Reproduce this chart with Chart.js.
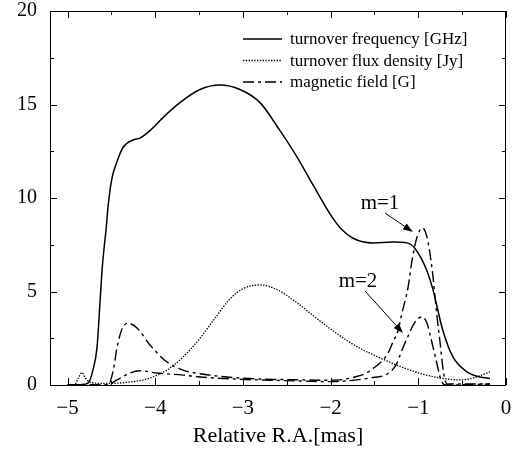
<!DOCTYPE html>
<html><head><meta charset="utf-8">
<script src="https://cdn.jsdelivr.net/npm/chart.js@4/dist/chart.umd.min.js"></script>
<style>html,body{margin:0;padding:0;background:#fff}</style>
</head><body>
<canvas id="c" width="515" height="452"></canvas>
<script>
// ---- data ----
const freqX = [-5.0,-4.85,-4.767,-4.71,-4.664,-4.63,-4.607,-4.584,-4.561,-4.539,-4.496,-4.439,-4.368,-4.254,-4.174,-4.06,-3.912,-3.718,-3.49,-3.262,-3.034,-2.805,-2.577,-2.384,-2.201,-2.0,-1.87,-1.745,-1.517,-1.289,-1.129,-1.038,-0.901,-0.833,-0.719,-0.605,-0.445,-0.297,-0.183];
const freqY = [0.0,0.02,0.1,0.8,2.0,4.4,6.1,7.3,8.3,9.5,11.0,11.9,12.7,13.1,13.2,13.6,14.3,15.1,15.8,16.04,15.8,15.1,13.6,12.2,10.7,9.1,8.3,7.85,7.6,7.65,7.6,7.3,6.1,5.1,2.9,1.5,0.7,0.43,0.35];

const fluxX = [-5.0,-4.92,-4.88,-4.835,-4.8,-4.76,-4.68,-4.55,-4.254,-4.06,-3.866,-3.683,-3.49,-3.33,-3.148,-3.0,-2.805,-2.612,-2.384,-2.156,-1.928,-1.7,-1.437,-1.209,-0.981,-0.753,-0.525,-0.377,-0.183];
const fluxY = [0.0,0.0,0.35,0.66,0.4,0.2,0.1,0.08,0.18,0.37,0.8,1.5,2.5,3.5,4.6,5.15,5.35,5.1,4.4,3.55,2.75,2.05,1.45,1.0,0.62,0.38,0.27,0.37,0.7];

const bM1X = [-5.0,-4.6,-4.535,-4.478,-4.436,-4.379,-4.311,-4.208,-4.06,-3.866,-3.683,-3.49,-3.113,-2.805,-2.4,-2.0,-1.85,-1.72,-1.6,-1.494,-1.403,-1.346,-1.289,-1.232,-1.186,-1.118,-1.07,-1.015,-0.955,-0.901,-0.84,-0.79,-0.75,-0.71,-0.67,-0.183];
const bM1Y = [0.0,0.0,0.02,0.8,2.0,3.0,3.3,3.05,2.14,1.23,0.8,0.6,0.4,0.32,0.28,0.25,0.3,0.43,0.62,0.96,1.34,1.7,2.3,2.9,3.85,5.2,6.7,7.9,8.4,7.9,6.1,3.8,2.2,0.6,0.05,0.05];

const bM2X = [-5.0,-4.55,-4.436,-4.29,-4.174,-3.98,-3.683,-3.49,-3.113,-2.805,-2.4,-2.0,-1.75,-1.55,-1.35,-1.25,-1.2,-1.118,-1.04,-0.96,-0.9,-0.867,-0.8,-0.75,-0.72,-0.68,-0.183];
const bM2Y = [0.0,0.0,0.27,0.64,0.76,0.64,0.53,0.43,0.32,0.27,0.22,0.18,0.25,0.38,0.6,1.1,1.7,2.6,3.35,3.64,3.3,2.7,1.4,0.4,0.08,0.0,0.05];

const seriesLabels = ['turnover frequency [GHz]','turnover flux density [Jy]','magnetic field [G]'];
const xMajorTicks = [-5,-4,-3,-2,-1,0];
const yMajorTicks = [0,5,10,15,20];
const annotations = [
  {text:'m=1', tx:-1.437, ty:9.68, ax1:-1.38, ay1:9.2, ax2:-1.061, ay2:8.18},
  {text:'m=2', tx:-1.688, ty:5.56, ax1:-1.608, ay1:5.03, ax2:-1.175, ay2:2.78}
];

const pts = (xs, ys) => xs.map((x,i)=>({x, y: ys[i]}));
const FONT = '"Liberation Serif","Times New Roman",serif';
const DOT = [1.4,1.4];
const DASHDOT = [11,4,3,4];

const frame = {
  id:'frame',
  afterDraw(chart){
    const {ctx, chartArea:a, scales:{x,y}} = chart;
    ctx.save();
    ctx.strokeStyle='#000'; ctx.lineWidth=1; ctx.setLineDash([]);
    ctx.strokeRect(a.left+0.5, a.top+0.5, a.right-a.left-1, a.bottom-a.top);
    ctx.beginPath();
    x.ticks.forEach(t=>{
      if (Math.abs(t.value*2-Math.round(t.value*2))>1e-6) return;
      const px = Math.round(x.getPixelForValue(t.value))+0.5;
      const len = xMajorTicks.some(v=>Math.abs(v-t.value)<1e-6) ? 7 : 4;
      ctx.moveTo(px,a.bottom); ctx.lineTo(px,a.bottom-len);
      ctx.moveTo(px,a.top); ctx.lineTo(px,a.top+len);
    });
    y.ticks.forEach(t=>{
      const py = Math.round(y.getPixelForValue(t.value))+0.5;
      const len = yMajorTicks.some(v=>Math.abs(v-t.value)<1e-6) ? 7 : 4;
      ctx.moveTo(a.left,py); ctx.lineTo(a.left+len,py);
      ctx.moveTo(a.right,py); ctx.lineTo(a.right-len,py);
    });
    ctx.stroke();

    // legend
    ctx.font = '17px '+FONT; ctx.fillStyle='#000'; ctx.textBaseline='middle'; ctx.textAlign='left';
    const dashes = [[],DOT,DASHDOT];
    const lx1 = a.right-263, lx2 = a.right-224, tx = a.right-216;
    seriesLabels.forEach((lab,i)=>{
      const ly = a.top + 28 + i*21.5;
      ctx.beginPath(); ctx.lineWidth = i===1?1.3:1.5; ctx.setLineDash(dashes[i]);
      ctx.moveTo(lx1, ly); ctx.lineTo(lx2, ly); ctx.stroke();
      ctx.setLineDash([]);
      ctx.fillText(lab, tx, ly+1);
    });

    // annotations
    ctx.font = '21px '+FONT; ctx.textAlign='center';
    annotations.forEach(an=>{
      ctx.fillText(an.text, x.getPixelForValue(an.tx), y.getPixelForValue(an.ty));
      const x1=x.getPixelForValue(an.ax1), y1=y.getPixelForValue(an.ay1);
      const x2=x.getPixelForValue(an.ax2), y2=y.getPixelForValue(an.ay2);
      const ang=Math.atan2(y2-y1,x2-x1), hl=10, hw=3.5;
      const bx=x2-hl*Math.cos(ang), by=y2-hl*Math.sin(ang);
      ctx.lineWidth=1; ctx.beginPath(); ctx.moveTo(x1,y1); ctx.lineTo(bx,by); ctx.stroke();
      ctx.beginPath(); ctx.moveTo(x2,y2);
      ctx.lineTo(bx+hw*Math.sin(ang), by-hw*Math.cos(ang));
      ctx.lineTo(bx-hw*Math.sin(ang), by+hw*Math.cos(ang));
      ctx.closePath(); ctx.fill();
    });
    ctx.restore();
  }
};

const noPad = s => { s.paddingTop=0; s.paddingBottom=0; s.paddingLeft=0; s.paddingRight=0; };
const base = {pointRadius:0, borderColor:'#000', fill:false, tension:0.4, cubicInterpolationMode:'monotone'};
new Chart(document.getElementById('c'), {
  type:'line',
  data:{datasets:[
    {...base, label:seriesLabels[0], data:pts(freqX,freqY), borderWidth:1.5},
    {...base, label:seriesLabels[1], data:pts(fluxX,fluxY), borderWidth:1.3, borderDash:DOT},
    {...base, label:seriesLabels[2]+' m=1', data:pts(bM1X,bM1Y), borderWidth:1.4, borderDash:DASHDOT},
    {...base, label:seriesLabels[2]+' m=2', data:pts(bM2X,bM2Y), borderWidth:1.4, borderDash:DASHDOT}
  ]},
  options:{
    responsive:false, animation:false,
    layout:{padding:{top:11,right:9,left:0,bottom:0}},
    plugins:{legend:{display:false}, tooltip:{enabled:false}},
    scales:{
      x:{type:'linear', min:-5.2, max:0,
         grid:{display:false, drawTicks:false}, border:{display:false},
         ticks:{stepSize:0.5, includeBounds:false, padding:11, color:'#000', font:{family:FONT,size:21},
           callback:v=> Number.isInteger(v) ? (v<0?'\u2212'+Math.abs(v):String(v)) : ''},
         title:{display:true, text:'Relative R.A.[mas]', color:'#000', font:{family:FONT,size:22}, padding:{top:0,bottom:3}},
         afterFit:s=>{s.height=67; noPad(s);}
      },
      y:{type:'linear', min:0, max:20,
         grid:{display:false, drawTicks:false}, border:{display:false},
         ticks:{stepSize:2.5, padding:13, color:'#000', font:{family:FONT,size:20},
           callback:v=> (v%5===0) ? String(v) : ''},
         afterFit:s=>{s.width=50; noPad(s);}
      }
    }
  },
  plugins:[frame]
});
</script>
</body></html>
